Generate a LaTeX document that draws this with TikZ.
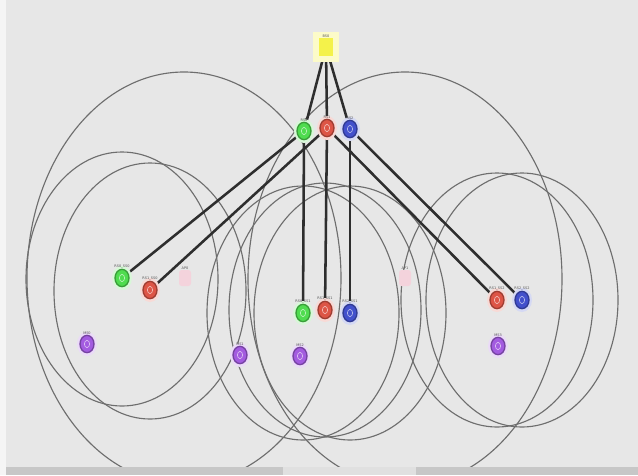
\documentclass[tikz,border=0pt]{standalone}
\usepackage{fontspec}
\setsansfont{DejaVu Sans}
\usetikzlibrary{shapes.geometric}
\definecolor{canvas}{HTML}{E7E7E7}
\definecolor{rangegray}{HTML}{6E6E6E}
\definecolor{linkgray}{HTML}{2E2E2E}
\definecolor{labelgray}{HTML}{555555}
\definecolor{nodegreen}{HTML}{4FDC4F}
\definecolor{nodered}{HTML}{DD5546}
\definecolor{nodeblue}{HTML}{4250CC}
\definecolor{nodepurple}{HTML}{A35BE0}
\definecolor{nodeyellow}{HTML}{F4F24A}
\definecolor{nodepink}{HTML}{F4D3DC}
\pgfdeclarelayer{base}
\pgfdeclarelayer{behind}
\pgfsetlayers{base,behind,main}
\tikzset{
  coverage/.style={draw=rangegray, line width=0.85pt},
  link/.style={draw=linkgray, line width=1.9pt},
  lbl/.style={font=\sffamily\fontsize{2.6}{3}\selectfont, text=labelgray, inner sep=0pt},
  sta/.style={shape=ellipse, minimum width=10.5pt, minimum height=13pt, inner sep=0pt, line width=1pt},
  halo/.style={shape=ellipse, minimum width=15pt, minimum height=18pt, inner sep=0pt, draw=none},
  apbox/.style={fill=nodepink, rounded corners=2pt, minimum width=9pt, minimum height=12pt, inner sep=0pt},
}
% station: name, colour, x, y, label
\newcommand\stationnode[5]{%
  \node[halo, fill=#2!22] at (#3,#4) {};
  \node[sta, fill=#2, draw=#2!72!black, label={[lbl]above:#5}] (#1) at (#3,#4) {};
  \draw[#2!35!white, line width=0.45pt] (#3,#4) ellipse [x radius=2.6, y radius=3.6];
}
\begin{document}
\begin{tikzpicture}[x=0.75pt, y=-0.75pt]
\useasboundingbox (0,0) rectangle (638,475);
\begin{pgfonlayer}{base}
\fill[canvas] (0,0) rectangle (638,475);
\fill[white!60!canvas] (0,0) rectangle (6,475);
\begin{scope}
\clip (6,0) rectangle (638,467);
% coverage ranges
\draw[coverage] (184,278) ellipse [x radius=157, y radius=206];
\draw[coverage] (405,279) ellipse [x radius=157, y radius=207];
\draw[coverage] (122,279) ellipse [x radius=96, y radius=127];
\draw[coverage] (150,291) ellipse [x radius=96, y radius=128];
\draw[coverage] (303,313) ellipse [x radius=96, y radius=127];
\draw[coverage] (325,310) ellipse [x radius=96, y radius=127];
\draw[coverage] (350,313) ellipse [x radius=96, y radius=127];
\draw[coverage] (497,300) ellipse [x radius=96, y radius=127];
\draw[coverage] (522,300) ellipse [x radius=96, y radius=127];
\end{scope}
% status bar
\fill[black!22] (6,467) rectangle (283,475);
\fill[black!12] (283,467) rectangle (416,475);
\fill[black!22] (416,467) rectangle (638,475);
\end{pgfonlayer}
% root
\node[halo, fill=nodeyellow!30, minimum width=20pt, minimum height=22pt, shape=rectangle] at (326,47) {};
\node[fill=nodeyellow, minimum width=11pt, minimum height=13pt, inner sep=0pt,
      label={[lbl]above:BS0}] (root) at (326,47) {};
% first tier
\stationnode{ga}{nodegreen}{304}{131}{RS0}
\stationnode{ra}{nodered}{327}{128}{RS1}
\stationnode{ba}{nodeblue}{350}{129}{RS2}
% second tier
\stationnode{gl}{nodegreen}{122}{278}{RS0\_SS0}
\stationnode{rl}{nodered}{150}{290}{RS1\_SS0}
\stationnode{gc}{nodegreen}{303}{313}{RS0\_SS1}
\stationnode{rc}{nodered}{325}{310}{RS1\_SS1}
\stationnode{bc}{nodeblue}{350}{313}{RS2\_SS1}
\stationnode{rr}{nodered}{497}{300}{RS1\_SS2}
\stationnode{br}{nodeblue}{522}{300}{RS2\_SS2}
% access points
\node[apbox, label={[lbl]above:AP0}] (pl) at (185,278) {};
\node[apbox, label={[lbl]above:AP1}] (pc) at (405,278) {};
% mobiles
\stationnode{m1}{nodepurple}{87}{344}{MS0}
\stationnode{m2}{nodepurple}{240}{355}{MS1}
\stationnode{m3}{nodepurple}{300}{356}{MS2}
\stationnode{m4}{nodepurple}{498}{346}{MS3}
% links
\begin{pgfonlayer}{behind}
\draw[link] (root.center) -- (ga.center);
\draw[link] (root.center) -- (ra.center);
\draw[link] (root.center) -- (ba.center);
\draw[link] (ga.center) -- (gl.center);
\draw[link] (ga.center) -- (gc.center);
\draw[link] (ra.center) -- (rl.center);
\draw[link] (ra.center) -- (rc.center);
\draw[link] (ra.center) -- (rr.center);
\draw[link] (ba.center) -- (bc.center);
\draw[link] (ba.center) -- (br.center);
\end{pgfonlayer}
\end{tikzpicture}
\end{document}
